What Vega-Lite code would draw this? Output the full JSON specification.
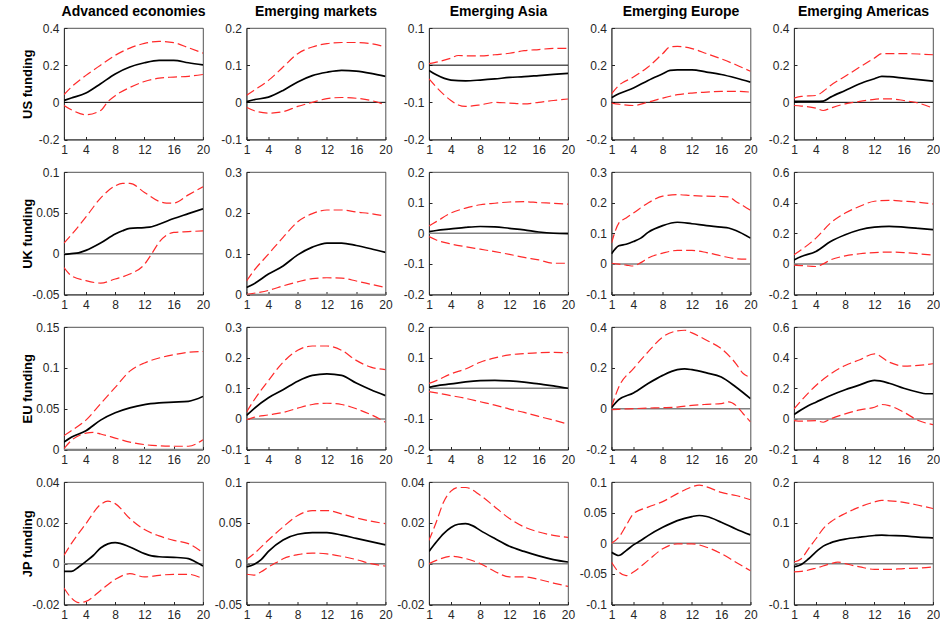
{
"$schema":"https://vega.github.io/schema/vega-lite/v6.json",
"background":"white",
"padding":{"left":20,"top":4,"right":4,"bottom":2},
"data":{"values":[
{"p":"A","s":"e","h":1,"v":0.01},{"p":"A","s":"e","h":2,"v":0.023},{"p":"A","s":"e","h":4,"v":0.05},{"p":"A","s":"e","h":6,"v":0.1},{"p":"A","s":"e","h":8,"v":0.153},{"p":"A","s":"e","h":10,"v":0.19},{"p":"A","s":"e","h":12,"v":0.213},{"p":"A","s":"e","h":14,"v":0.226},{"p":"A","s":"e","h":16,"v":0.226},{"p":"A","s":"e","h":18,"v":0.213},{"p":"A","s":"e","h":20,"v":0.202},
{"p":"A","s":"u","h":1,"v":0.042},{"p":"A","s":"u","h":2,"v":0.082},{"p":"A","s":"u","h":4,"v":0.145},{"p":"A","s":"u","h":6,"v":0.2},{"p":"A","s":"u","h":8,"v":0.253},{"p":"A","s":"u","h":10,"v":0.292},{"p":"A","s":"u","h":12,"v":0.317},{"p":"A","s":"u","h":14,"v":0.328},{"p":"A","s":"u","h":16,"v":0.321},{"p":"A","s":"u","h":18,"v":0.294},{"p":"A","s":"u","h":20,"v":0.265},
{"p":"A","s":"l","h":1,"v":-0.017},{"p":"A","s":"l","h":2,"v":-0.04},{"p":"A","s":"l","h":4,"v":-0.067},{"p":"A","s":"l","h":6,"v":-0.044},{"p":"A","s":"l","h":7,"v":0.004},{"p":"A","s":"l","h":8,"v":0.036},{"p":"A","s":"l","h":10,"v":0.08},{"p":"A","s":"l","h":12,"v":0.112},{"p":"A","s":"l","h":14,"v":0.13},{"p":"A","s":"l","h":16,"v":0.136},{"p":"A","s":"l","h":18,"v":0.14},{"p":"A","s":"l","h":20,"v":0.15},
{"p":"B","s":"e","h":1,"v":0.002},{"p":"B","s":"e","h":2,"v":0.007},{"p":"B","s":"e","h":4,"v":0.014},{"p":"B","s":"e","h":6,"v":0.032},{"p":"B","s":"e","h":8,"v":0.055},{"p":"B","s":"e","h":10,"v":0.072},{"p":"B","s":"e","h":12,"v":0.081},{"p":"B","s":"e","h":14,"v":0.086},{"p":"B","s":"e","h":16,"v":0.084},{"p":"B","s":"e","h":18,"v":0.078},{"p":"B","s":"e","h":20,"v":0.07},
{"p":"B","s":"u","h":1,"v":0.019},{"p":"B","s":"u","h":2,"v":0.032},{"p":"B","s":"u","h":4,"v":0.059},{"p":"B","s":"u","h":6,"v":0.095},{"p":"B","s":"u","h":8,"v":0.131},{"p":"B","s":"u","h":10,"v":0.149},{"p":"B","s":"u","h":12,"v":0.158},{"p":"B","s":"u","h":14,"v":0.161},{"p":"B","s":"u","h":16,"v":0.161},{"p":"B","s":"u","h":18,"v":0.158},{"p":"B","s":"u","h":20,"v":0.149},
{"p":"B","s":"l","h":1,"v":-0.013},{"p":"B","s":"l","h":2,"v":-0.022},{"p":"B","s":"l","h":4,"v":-0.029},{"p":"B","s":"l","h":6,"v":-0.025},{"p":"B","s":"l","h":8,"v":-0.011},{"p":"B","s":"l","h":10,"v":0.0},{"p":"B","s":"l","h":12,"v":0.01},{"p":"B","s":"l","h":14,"v":0.013},{"p":"B","s":"l","h":16,"v":0.011},{"p":"B","s":"l","h":18,"v":0.005},{"p":"B","s":"l","h":20,"v":-0.007},
{"p":"C","s":"e","h":1,"v":-0.014},{"p":"C","s":"e","h":2,"v":-0.026},{"p":"C","s":"e","h":4,"v":-0.04},{"p":"C","s":"e","h":6,"v":-0.042},{"p":"C","s":"e","h":8,"v":-0.04},{"p":"C","s":"e","h":10,"v":-0.037},{"p":"C","s":"e","h":12,"v":-0.033},{"p":"C","s":"e","h":14,"v":-0.031},{"p":"C","s":"e","h":16,"v":-0.028},{"p":"C","s":"e","h":18,"v":-0.025},{"p":"C","s":"e","h":20,"v":-0.022},
{"p":"C","s":"u","h":1,"v":0.004},{"p":"C","s":"u","h":2,"v":0.008},{"p":"C","s":"u","h":4,"v":0.019},{"p":"C","s":"u","h":5,"v":0.026},{"p":"C","s":"u","h":6,"v":0.025},{"p":"C","s":"u","h":8,"v":0.025},{"p":"C","s":"u","h":10,"v":0.028},{"p":"C","s":"u","h":12,"v":0.032},{"p":"C","s":"u","h":14,"v":0.039},{"p":"C","s":"u","h":16,"v":0.042},{"p":"C","s":"u","h":18,"v":0.045},{"p":"C","s":"u","h":20,"v":0.045},
{"p":"C","s":"l","h":1,"v":-0.037},{"p":"C","s":"l","h":2,"v":-0.059},{"p":"C","s":"l","h":4,"v":-0.095},{"p":"C","s":"l","h":5,"v":-0.107},{"p":"C","s":"l","h":6,"v":-0.111},{"p":"C","s":"l","h":8,"v":-0.107},{"p":"C","s":"l","h":10,"v":-0.1},{"p":"C","s":"l","h":12,"v":-0.102},{"p":"C","s":"l","h":14,"v":-0.104},{"p":"C","s":"l","h":16,"v":-0.1},{"p":"C","s":"l","h":18,"v":-0.095},{"p":"C","s":"l","h":20,"v":-0.091},
{"p":"D","s":"e","h":1,"v":0.025},{"p":"D","s":"e","h":2,"v":0.046},{"p":"D","s":"e","h":4,"v":0.077},{"p":"D","s":"e","h":6,"v":0.118},{"p":"D","s":"e","h":8,"v":0.154},{"p":"D","s":"e","h":9,"v":0.172},{"p":"D","s":"e","h":10,"v":0.175},{"p":"D","s":"e","h":12,"v":0.175},{"p":"D","s":"e","h":14,"v":0.163},{"p":"D","s":"e","h":16,"v":0.15},{"p":"D","s":"e","h":18,"v":0.131},{"p":"D","s":"e","h":20,"v":0.109},
{"p":"D","s":"u","h":1,"v":0.046},{"p":"D","s":"u","h":2,"v":0.091},{"p":"D","s":"u","h":4,"v":0.136},{"p":"D","s":"u","h":6,"v":0.19},{"p":"D","s":"u","h":8,"v":0.262},{"p":"D","s":"u","h":9,"v":0.298},{"p":"D","s":"u","h":10,"v":0.301},{"p":"D","s":"u","h":12,"v":0.289},{"p":"D","s":"u","h":14,"v":0.262},{"p":"D","s":"u","h":16,"v":0.234},{"p":"D","s":"u","h":18,"v":0.202},{"p":"D","s":"u","h":20,"v":0.167},
{"p":"D","s":"l","h":1,"v":-0.004},{"p":"D","s":"l","h":2,"v":-0.01},{"p":"D","s":"l","h":4,"v":-0.017},{"p":"D","s":"l","h":6,"v":0.001},{"p":"D","s":"l","h":8,"v":0.023},{"p":"D","s":"l","h":10,"v":0.041},{"p":"D","s":"l","h":12,"v":0.05},{"p":"D","s":"l","h":14,"v":0.055},{"p":"D","s":"l","h":16,"v":0.059},{"p":"D","s":"l","h":18,"v":0.059},{"p":"D","s":"l","h":20,"v":0.055},
{"p":"E","s":"e","h":1,"v":0.005},{"p":"E","s":"e","h":2,"v":0.005},{"p":"E","s":"e","h":4,"v":0.005},{"p":"E","s":"e","h":5,"v":0.007},{"p":"E","s":"e","h":6,"v":0.028},{"p":"E","s":"e","h":8,"v":0.064},{"p":"E","s":"e","h":10,"v":0.1},{"p":"E","s":"e","h":12,"v":0.127},{"p":"E","s":"e","h":13,"v":0.14},{"p":"E","s":"e","h":14,"v":0.138},{"p":"E","s":"e","h":16,"v":0.13},{"p":"E","s":"e","h":18,"v":0.122},{"p":"E","s":"e","h":20,"v":0.114},
{"p":"E","s":"u","h":1,"v":0.023},{"p":"E","s":"u","h":2,"v":0.032},{"p":"E","s":"u","h":4,"v":0.037},{"p":"E","s":"u","h":5,"v":0.059},{"p":"E","s":"u","h":6,"v":0.091},{"p":"E","s":"u","h":8,"v":0.14},{"p":"E","s":"u","h":10,"v":0.19},{"p":"E","s":"u","h":12,"v":0.238},{"p":"E","s":"u","h":13,"v":0.262},{"p":"E","s":"u","h":14,"v":0.262},{"p":"E","s":"u","h":16,"v":0.262},{"p":"E","s":"u","h":18,"v":0.26},{"p":"E","s":"u","h":20,"v":0.256},
{"p":"E","s":"l","h":1,"v":-0.017},{"p":"E","s":"l","h":2,"v":-0.02},{"p":"E","s":"l","h":4,"v":-0.031},{"p":"E","s":"l","h":5,"v":-0.044},{"p":"E","s":"l","h":6,"v":-0.031},{"p":"E","s":"l","h":8,"v":-0.008},{"p":"E","s":"l","h":10,"v":0.005},{"p":"E","s":"l","h":12,"v":0.016},{"p":"E","s":"l","h":13,"v":0.019},{"p":"E","s":"l","h":14,"v":0.019},{"p":"E","s":"l","h":16,"v":0.01},{"p":"E","s":"l","h":18,"v":-0.004},{"p":"E","s":"l","h":20,"v":-0.031},
{"p":"F","s":"e","h":1,"v":-0.001},{"p":"F","s":"e","h":2,"v":0},{"p":"F","s":"e","h":3,"v":0.001},{"p":"F","s":"e","h":4,"v":0.004},{"p":"F","s":"e","h":6,"v":0.013},{"p":"F","s":"e","h":8,"v":0.024},{"p":"F","s":"e","h":9,"v":0.028},{"p":"F","s":"e","h":10,"v":0.031},{"p":"F","s":"e","h":12,"v":0.032},{"p":"F","s":"e","h":13,"v":0.033},{"p":"F","s":"e","h":14,"v":0.036},{"p":"F","s":"e","h":16,"v":0.043},{"p":"F","s":"e","h":18,"v":0.049},{"p":"F","s":"e","h":20,"v":0.055},
{"p":"F","s":"u","h":1,"v":0.013},{"p":"F","s":"u","h":2,"v":0.023},{"p":"F","s":"u","h":4,"v":0.045},{"p":"F","s":"u","h":6,"v":0.068},{"p":"F","s":"u","h":8,"v":0.083},{"p":"F","s":"u","h":9,"v":0.086},{"p":"F","s":"u","h":10,"v":0.086},{"p":"F","s":"u","h":12,"v":0.075},{"p":"F","s":"u","h":14,"v":0.064},{"p":"F","s":"u","h":15,"v":0.062},{"p":"F","s":"u","h":16,"v":0.062},{"p":"F","s":"u","h":18,"v":0.072},{"p":"F","s":"u","h":20,"v":0.082},
{"p":"F","s":"l","h":1,"v":-0.017},{"p":"F","s":"l","h":2,"v":-0.027},{"p":"F","s":"l","h":4,"v":-0.033},{"p":"F","s":"l","h":6,"v":-0.036},{"p":"F","s":"l","h":8,"v":-0.031},{"p":"F","s":"l","h":10,"v":-0.025},{"p":"F","s":"l","h":12,"v":-0.013},{"p":"F","s":"l","h":13,"v":0},{"p":"F","s":"l","h":14,"v":0.014},{"p":"F","s":"l","h":16,"v":0.026},{"p":"F","s":"l","h":18,"v":0.027},{"p":"F","s":"l","h":20,"v":0.028},
{"p":"G","s":"e","h":1,"v":0.017},{"p":"G","s":"e","h":2,"v":0.026},{"p":"G","s":"e","h":4,"v":0.05},{"p":"G","s":"e","h":6,"v":0.07},{"p":"G","s":"e","h":8,"v":0.097},{"p":"G","s":"e","h":10,"v":0.116},{"p":"G","s":"e","h":12,"v":0.126},{"p":"G","s":"e","h":14,"v":0.126},{"p":"G","s":"e","h":16,"v":0.12},{"p":"G","s":"e","h":18,"v":0.112},{"p":"G","s":"e","h":20,"v":0.103},
{"p":"G","s":"u","h":1,"v":0.033},{"p":"G","s":"u","h":2,"v":0.058},{"p":"G","s":"u","h":4,"v":0.099},{"p":"G","s":"u","h":6,"v":0.14},{"p":"G","s":"u","h":8,"v":0.178},{"p":"G","s":"u","h":10,"v":0.198},{"p":"G","s":"u","h":12,"v":0.207},{"p":"G","s":"u","h":14,"v":0.207},{"p":"G","s":"u","h":16,"v":0.202},{"p":"G","s":"u","h":18,"v":0.198},{"p":"G","s":"u","h":20,"v":0.192},
{"p":"G","s":"l","h":1,"v":0},{"p":"G","s":"l","h":2,"v":0.003},{"p":"G","s":"l","h":4,"v":0.01},{"p":"G","s":"l","h":6,"v":0.021},{"p":"G","s":"l","h":8,"v":0.031},{"p":"G","s":"l","h":10,"v":0.039},{"p":"G","s":"l","h":12,"v":0.041},{"p":"G","s":"l","h":14,"v":0.04},{"p":"G","s":"l","h":16,"v":0.033},{"p":"G","s":"l","h":18,"v":0.025},{"p":"G","s":"l","h":20,"v":0.017},
{"p":"H","s":"e","h":1,"v":0.005},{"p":"H","s":"e","h":2,"v":0.009},{"p":"H","s":"e","h":4,"v":0.014},{"p":"H","s":"e","h":6,"v":0.019},{"p":"H","s":"e","h":8,"v":0.022},{"p":"H","s":"e","h":10,"v":0.021},{"p":"H","s":"e","h":12,"v":0.016},{"p":"H","s":"e","h":14,"v":0.011},{"p":"H","s":"e","h":16,"v":0.004},{"p":"H","s":"e","h":18,"v":0},{"p":"H","s":"e","h":20,"v":-0.001},
{"p":"H","s":"u","h":1,"v":0.024},{"p":"H","s":"u","h":2,"v":0.038},{"p":"H","s":"u","h":4,"v":0.066},{"p":"H","s":"u","h":6,"v":0.082},{"p":"H","s":"u","h":8,"v":0.093},{"p":"H","s":"u","h":10,"v":0.098},{"p":"H","s":"u","h":12,"v":0.102},{"p":"H","s":"u","h":14,"v":0.103},{"p":"H","s":"u","h":16,"v":0.1},{"p":"H","s":"u","h":18,"v":0.098},{"p":"H","s":"u","h":20,"v":0.095},
{"p":"H","s":"l","h":1,"v":-0.011},{"p":"H","s":"l","h":2,"v":-0.022},{"p":"H","s":"l","h":4,"v":-0.035},{"p":"H","s":"l","h":6,"v":-0.044},{"p":"H","s":"l","h":8,"v":-0.052},{"p":"H","s":"l","h":10,"v":-0.06},{"p":"H","s":"l","h":12,"v":-0.069},{"p":"H","s":"l","h":14,"v":-0.079},{"p":"H","s":"l","h":16,"v":-0.087},{"p":"H","s":"l","h":18,"v":-0.098},{"p":"H","s":"l","h":20,"v":-0.098},
{"p":"I","s":"e","h":1,"v":0.033},{"p":"I","s":"e","h":2,"v":0.059},{"p":"I","s":"e","h":3,"v":0.064},{"p":"I","s":"e","h":4,"v":0.073},{"p":"I","s":"e","h":5,"v":0.084},{"p":"I","s":"e","h":6,"v":0.103},{"p":"I","s":"e","h":8,"v":0.125},{"p":"I","s":"e","h":10,"v":0.136},{"p":"I","s":"e","h":12,"v":0.131},{"p":"I","s":"e","h":14,"v":0.125},{"p":"I","s":"e","h":16,"v":0.12},{"p":"I","s":"e","h":17,"v":0.117},{"p":"I","s":"e","h":18,"v":0.109},{"p":"I","s":"e","h":20,"v":0.084},
{"p":"I","s":"u","h":1,"v":0.068},{"p":"I","s":"u","h":2,"v":0.133},{"p":"I","s":"u","h":3,"v":0.15},{"p":"I","s":"u","h":4,"v":0.166},{"p":"I","s":"u","h":6,"v":0.199},{"p":"I","s":"u","h":8,"v":0.221},{"p":"I","s":"u","h":10,"v":0.226},{"p":"I","s":"u","h":12,"v":0.223},{"p":"I","s":"u","h":14,"v":0.221},{"p":"I","s":"u","h":16,"v":0.22},{"p":"I","s":"u","h":17,"v":0.219},{"p":"I","s":"u","h":18,"v":0.204},{"p":"I","s":"u","h":19,"v":0.19},{"p":"I","s":"u","h":20,"v":0.175},
{"p":"I","s":"l","h":1,"v":0.002},{"p":"I","s":"l","h":2,"v":-0.001},{"p":"I","s":"l","h":3,"v":-0.004},{"p":"I","s":"l","h":4,"v":-0.007},{"p":"I","s":"l","h":5,"v":0.004},{"p":"I","s":"l","h":6,"v":0.019},{"p":"I","s":"l","h":8,"v":0.035},{"p":"I","s":"l","h":10,"v":0.044},{"p":"I","s":"l","h":12,"v":0.044},{"p":"I","s":"l","h":14,"v":0.037},{"p":"I","s":"l","h":16,"v":0.026},{"p":"I","s":"l","h":18,"v":0.017},{"p":"I","s":"l","h":20,"v":0.015},
{"p":"J","s":"e","h":1,"v":0.026},{"p":"J","s":"e","h":2,"v":0.048},{"p":"J","s":"e","h":4,"v":0.081},{"p":"J","s":"e","h":6,"v":0.146},{"p":"J","s":"e","h":8,"v":0.19},{"p":"J","s":"e","h":10,"v":0.223},{"p":"J","s":"e","h":12,"v":0.24},{"p":"J","s":"e","h":14,"v":0.245},{"p":"J","s":"e","h":16,"v":0.24},{"p":"J","s":"e","h":18,"v":0.232},{"p":"J","s":"e","h":20,"v":0.223},
{"p":"J","s":"u","h":1,"v":0.059},{"p":"J","s":"u","h":2,"v":0.092},{"p":"J","s":"u","h":4,"v":0.168},{"p":"J","s":"u","h":6,"v":0.267},{"p":"J","s":"u","h":8,"v":0.332},{"p":"J","s":"u","h":10,"v":0.376},{"p":"J","s":"u","h":12,"v":0.409},{"p":"J","s":"u","h":14,"v":0.415},{"p":"J","s":"u","h":16,"v":0.409},{"p":"J","s":"u","h":18,"v":0.402},{"p":"J","s":"u","h":20,"v":0.391},
{"p":"J","s":"l","h":1,"v":-0.009},{"p":"J","s":"l","h":2,"v":-0.011},{"p":"J","s":"l","h":4,"v":-0.017},{"p":"J","s":"l","h":5,"v":0},{"p":"J","s":"l","h":6,"v":0.026},{"p":"J","s":"l","h":8,"v":0.052},{"p":"J","s":"l","h":10,"v":0.066},{"p":"J","s":"l","h":12,"v":0.074},{"p":"J","s":"l","h":14,"v":0.077},{"p":"J","s":"l","h":16,"v":0.074},{"p":"J","s":"l","h":18,"v":0.066},{"p":"J","s":"l","h":20,"v":0.057},
{"p":"K","s":"e","h":1,"v":0.009},{"p":"K","s":"e","h":2,"v":0.015},{"p":"K","s":"e","h":4,"v":0.023},{"p":"K","s":"e","h":6,"v":0.036},{"p":"K","s":"e","h":8,"v":0.045},{"p":"K","s":"e","h":10,"v":0.051},{"p":"K","s":"e","h":12,"v":0.055},{"p":"K","s":"e","h":14,"v":0.057},{"p":"K","s":"e","h":16,"v":0.058},{"p":"K","s":"e","h":18,"v":0.059},{"p":"K","s":"e","h":20,"v":0.065},
{"p":"K","s":"u","h":1,"v":0.017},{"p":"K","s":"u","h":2,"v":0.023},{"p":"K","s":"u","h":4,"v":0.036},{"p":"K","s":"u","h":6,"v":0.056},{"p":"K","s":"u","h":8,"v":0.076},{"p":"K","s":"u","h":10,"v":0.096},{"p":"K","s":"u","h":12,"v":0.106},{"p":"K","s":"u","h":14,"v":0.112},{"p":"K","s":"u","h":16,"v":0.116},{"p":"K","s":"u","h":18,"v":0.119},{"p":"K","s":"u","h":20,"v":0.12},
{"p":"K","s":"l","h":1,"v":0.001},{"p":"K","s":"l","h":2,"v":0.011},{"p":"K","s":"l","h":4,"v":0.02},{"p":"K","s":"l","h":5,"v":0.021},{"p":"K","s":"l","h":6,"v":0.019},{"p":"K","s":"l","h":8,"v":0.014},{"p":"K","s":"l","h":10,"v":0.009},{"p":"K","s":"l","h":12,"v":0.006},{"p":"K","s":"l","h":14,"v":0.0045},{"p":"K","s":"l","h":16,"v":0.004},{"p":"K","s":"l","h":18,"v":0.004},{"p":"K","s":"l","h":20,"v":0.012},
{"p":"L","s":"e","h":1,"v":0.011},{"p":"L","s":"e","h":2,"v":0.033},{"p":"L","s":"e","h":4,"v":0.069},{"p":"L","s":"e","h":6,"v":0.095},{"p":"L","s":"e","h":8,"v":0.123},{"p":"L","s":"e","h":10,"v":0.142},{"p":"L","s":"e","h":12,"v":0.147},{"p":"L","s":"e","h":14,"v":0.142},{"p":"L","s":"e","h":16,"v":0.117},{"p":"L","s":"e","h":18,"v":0.095},{"p":"L","s":"e","h":20,"v":0.076},
{"p":"L","s":"u","h":1,"v":0.022},{"p":"L","s":"u","h":2,"v":0.06},{"p":"L","s":"u","h":4,"v":0.125},{"p":"L","s":"u","h":6,"v":0.185},{"p":"L","s":"u","h":8,"v":0.224},{"p":"L","s":"u","h":10,"v":0.238},{"p":"L","s":"u","h":12,"v":0.238},{"p":"L","s":"u","h":14,"v":0.224},{"p":"L","s":"u","h":16,"v":0.191},{"p":"L","s":"u","h":18,"v":0.169},{"p":"L","s":"u","h":20,"v":0.161},
{"p":"L","s":"l","h":1,"v":-0.003},{"p":"L","s":"l","h":2,"v":0.005},{"p":"L","s":"l","h":4,"v":0.013},{"p":"L","s":"l","h":6,"v":0.021},{"p":"L","s":"l","h":8,"v":0.035},{"p":"L","s":"l","h":10,"v":0.047},{"p":"L","s":"l","h":12,"v":0.051},{"p":"L","s":"l","h":14,"v":0.047},{"p":"L","s":"l","h":16,"v":0.033},{"p":"L","s":"l","h":18,"v":0.014},{"p":"L","s":"l","h":20,"v":-0.011},
{"p":"M","s":"e","h":1,"v":0.003},{"p":"M","s":"e","h":2,"v":0.008},{"p":"M","s":"e","h":4,"v":0.014},{"p":"M","s":"e","h":6,"v":0.021},{"p":"M","s":"e","h":8,"v":0.025},{"p":"M","s":"e","h":10,"v":0.026},{"p":"M","s":"e","h":12,"v":0.024},{"p":"M","s":"e","h":14,"v":0.02},{"p":"M","s":"e","h":16,"v":0.014},{"p":"M","s":"e","h":18,"v":0.008},{"p":"M","s":"e","h":20,"v":0},
{"p":"M","s":"u","h":1,"v":0.016},{"p":"M","s":"u","h":2,"v":0.025},{"p":"M","s":"u","h":4,"v":0.047},{"p":"M","s":"u","h":6,"v":0.063},{"p":"M","s":"u","h":8,"v":0.085},{"p":"M","s":"u","h":10,"v":0.099},{"p":"M","s":"u","h":12,"v":0.109},{"p":"M","s":"u","h":14,"v":0.113},{"p":"M","s":"u","h":16,"v":0.116},{"p":"M","s":"u","h":18,"v":0.117},{"p":"M","s":"u","h":20,"v":0.116},
{"p":"M","s":"l","h":1,"v":-0.011},{"p":"M","s":"l","h":2,"v":-0.015},{"p":"M","s":"l","h":4,"v":-0.024},{"p":"M","s":"l","h":6,"v":-0.033},{"p":"M","s":"l","h":8,"v":-0.044},{"p":"M","s":"l","h":10,"v":-0.055},{"p":"M","s":"l","h":12,"v":-0.068},{"p":"M","s":"l","h":14,"v":-0.079},{"p":"M","s":"l","h":16,"v":-0.092},{"p":"M","s":"l","h":18,"v":-0.104},{"p":"M","s":"l","h":20,"v":-0.117},
{"p":"N","s":"e","h":1,"v":0.005},{"p":"N","s":"e","h":2,"v":0.044},{"p":"N","s":"e","h":4,"v":0.077},{"p":"N","s":"e","h":6,"v":0.123},{"p":"N","s":"e","h":8,"v":0.163},{"p":"N","s":"e","h":10,"v":0.191},{"p":"N","s":"e","h":11,"v":0.195},{"p":"N","s":"e","h":12,"v":0.191},{"p":"N","s":"e","h":14,"v":0.175},{"p":"N","s":"e","h":16,"v":0.155},{"p":"N","s":"e","h":18,"v":0.106},{"p":"N","s":"e","h":20,"v":0.049},
{"p":"N","s":"u","h":1,"v":0.008},{"p":"N","s":"u","h":2,"v":0.106},{"p":"N","s":"u","h":4,"v":0.196},{"p":"N","s":"u","h":6,"v":0.278},{"p":"N","s":"u","h":8,"v":0.351},{"p":"N","s":"u","h":10,"v":0.381},{"p":"N","s":"u","h":11,"v":0.384},{"p":"N","s":"u","h":12,"v":0.371},{"p":"N","s":"u","h":14,"v":0.335},{"p":"N","s":"u","h":16,"v":0.294},{"p":"N","s":"u","h":18,"v":0.221},{"p":"N","s":"u","h":19,"v":0.172},{"p":"N","s":"u","h":20,"v":0.155},
{"p":"N","s":"l","h":1,"v":-0.005},{"p":"N","s":"l","h":2,"v":-0.003},{"p":"N","s":"l","h":4,"v":0},{"p":"N","s":"l","h":6,"v":0.003},{"p":"N","s":"l","h":8,"v":0.005},{"p":"N","s":"l","h":10,"v":0.008},{"p":"N","s":"l","h":12,"v":0.016},{"p":"N","s":"l","h":14,"v":0.021},{"p":"N","s":"l","h":16,"v":0.025},{"p":"N","s":"l","h":17,"v":0.033},{"p":"N","s":"l","h":18,"v":0.016},{"p":"N","s":"l","h":19,"v":-0.025},{"p":"N","s":"l","h":20,"v":-0.065},
{"p":"O","s":"e","h":1,"v":0.028},{"p":"O","s":"e","h":2,"v":0.059},{"p":"O","s":"e","h":3,"v":0.087},{"p":"O","s":"e","h":4,"v":0.109},{"p":"O","s":"e","h":6,"v":0.153},{"p":"O","s":"e","h":8,"v":0.19},{"p":"O","s":"e","h":10,"v":0.222},{"p":"O","s":"e","h":12,"v":0.251},{"p":"O","s":"e","h":14,"v":0.233},{"p":"O","s":"e","h":16,"v":0.2},{"p":"O","s":"e","h":18,"v":0.174},{"p":"O","s":"e","h":19,"v":0.164},{"p":"O","s":"e","h":20,"v":0.164},
{"p":"O","s":"u","h":1,"v":0.065},{"p":"O","s":"u","h":2,"v":0.12},{"p":"O","s":"u","h":4,"v":0.218},{"p":"O","s":"u","h":6,"v":0.294},{"p":"O","s":"u","h":8,"v":0.349},{"p":"O","s":"u","h":10,"v":0.386},{"p":"O","s":"u","h":12,"v":0.425},{"p":"O","s":"u","h":14,"v":0.371},{"p":"O","s":"u","h":16,"v":0.345},{"p":"O","s":"u","h":18,"v":0.349},{"p":"O","s":"u","h":20,"v":0.36},
{"p":"O","s":"l","h":1,"v":-0.011},{"p":"O","s":"l","h":2,"v":-0.015},{"p":"O","s":"l","h":4,"v":-0.011},{"p":"O","s":"l","h":5,"v":-0.022},{"p":"O","s":"l","h":6,"v":0},{"p":"O","s":"l","h":8,"v":0.033},{"p":"O","s":"l","h":10,"v":0.059},{"p":"O","s":"l","h":12,"v":0.076},{"p":"O","s":"l","h":13,"v":0.094},{"p":"O","s":"l","h":14,"v":0.087},{"p":"O","s":"l","h":16,"v":0.044},{"p":"O","s":"l","h":18,"v":-0.011},{"p":"O","s":"l","h":20,"v":-0.037},
{"p":"P","s":"e","h":1,"v":-0.0038},{"p":"P","s":"e","h":2,"v":-0.0038},{"p":"P","s":"e","h":3,"v":-0.0016},{"p":"P","s":"e","h":4,"v":0.0011},{"p":"P","s":"e","h":5,"v":0.004},{"p":"P","s":"e","h":6,"v":0.0077},{"p":"P","s":"e","h":8,"v":0.0103},{"p":"P","s":"e","h":10,"v":0.0082},{"p":"P","s":"e","h":12,"v":0.0049},{"p":"P","s":"e","h":13,"v":0.0038},{"p":"P","s":"e","h":14,"v":0.0034},{"p":"P","s":"e","h":16,"v":0.0031},{"p":"P","s":"e","h":18,"v":0.0025},{"p":"P","s":"e","h":19,"v":0.0008},{"p":"P","s":"e","h":20,"v":-0.0011},
{"p":"P","s":"u","h":1,"v":0.0041},{"p":"P","s":"u","h":2,"v":0.0098},{"p":"P","s":"u","h":4,"v":0.0196},{"p":"P","s":"u","h":6,"v":0.029},{"p":"P","s":"u","h":7,"v":0.0306},{"p":"P","s":"u","h":8,"v":0.0294},{"p":"P","s":"u","h":10,"v":0.0221},{"p":"P","s":"u","h":12,"v":0.0167},{"p":"P","s":"u","h":14,"v":0.0136},{"p":"P","s":"u","h":16,"v":0.0114},{"p":"P","s":"u","h":18,"v":0.0098},{"p":"P","s":"u","h":20,"v":0.0054},
{"p":"P","s":"l","h":1,"v":-0.0119},{"p":"P","s":"l","h":2,"v":-0.0168},{"p":"P","s":"l","h":3,"v":-0.0191},{"p":"P","s":"l","h":4,"v":-0.0185},{"p":"P","s":"l","h":6,"v":-0.0131},{"p":"P","s":"l","h":8,"v":-0.0077},{"p":"P","s":"l","h":10,"v":-0.0049},{"p":"P","s":"l","h":12,"v":-0.0065},{"p":"P","s":"l","h":14,"v":-0.0057},{"p":"P","s":"l","h":16,"v":-0.0052},{"p":"P","s":"l","h":18,"v":-0.0052},{"p":"P","s":"l","h":20,"v":-0.0074},
{"p":"Q","s":"e","h":1,"v":-0.004},{"p":"Q","s":"e","h":2,"v":-0.001},{"p":"Q","s":"e","h":3,"v":0.005},{"p":"Q","s":"e","h":4,"v":0.015},{"p":"Q","s":"e","h":6,"v":0.029},{"p":"Q","s":"e","h":8,"v":0.036},{"p":"Q","s":"e","h":10,"v":0.038},{"p":"Q","s":"e","h":12,"v":0.038},{"p":"Q","s":"e","h":14,"v":0.035},{"p":"Q","s":"e","h":16,"v":0.031},{"p":"Q","s":"e","h":18,"v":0.027},{"p":"Q","s":"e","h":20,"v":0.023},
{"p":"Q","s":"u","h":1,"v":0.005},{"p":"Q","s":"u","h":2,"v":0.012},{"p":"Q","s":"u","h":4,"v":0.029},{"p":"Q","s":"u","h":6,"v":0.045},{"p":"Q","s":"u","h":8,"v":0.059},{"p":"Q","s":"u","h":10,"v":0.065},{"p":"Q","s":"u","h":12,"v":0.065},{"p":"Q","s":"u","h":14,"v":0.061},{"p":"Q","s":"u","h":16,"v":0.056},{"p":"Q","s":"u","h":18,"v":0.052},{"p":"Q","s":"u","h":20,"v":0.049},
{"p":"Q","s":"l","h":1,"v":-0.013},{"p":"Q","s":"l","h":2,"v":-0.014},{"p":"Q","s":"l","h":3,"v":-0.01},{"p":"Q","s":"l","h":4,"v":-0.004},{"p":"Q","s":"l","h":5,"v":0.001},{"p":"Q","s":"l","h":6,"v":0.006},{"p":"Q","s":"l","h":8,"v":0.011},{"p":"Q","s":"l","h":10,"v":0.013},{"p":"Q","s":"l","h":12,"v":0.012},{"p":"Q","s":"l","h":14,"v":0.009},{"p":"Q","s":"l","h":16,"v":0.005},{"p":"Q","s":"l","h":18,"v":0},{"p":"Q","s":"l","h":20,"v":-0.003},
{"p":"R","s":"e","h":1,"v":0.006},{"p":"R","s":"e","h":2,"v":0.0106},{"p":"R","s":"e","h":3,"v":0.0147},{"p":"R","s":"e","h":4,"v":0.0177},{"p":"R","s":"e","h":5,"v":0.0193},{"p":"R","s":"e","h":6,"v":0.0196},{"p":"R","s":"e","h":7,"v":0.0185},{"p":"R","s":"e","h":8,"v":0.0163},{"p":"R","s":"e","h":10,"v":0.0123},{"p":"R","s":"e","h":12,"v":0.0085},{"p":"R","s":"e","h":14,"v":0.006},{"p":"R","s":"e","h":16,"v":0.0038},{"p":"R","s":"e","h":18,"v":0.002},{"p":"R","s":"e","h":20,"v":0.0008},
{"p":"R","s":"u","h":1,"v":0.0114},{"p":"R","s":"u","h":2,"v":0.0204},{"p":"R","s":"u","h":3,"v":0.0302},{"p":"R","s":"u","h":4,"v":0.0355},{"p":"R","s":"u","h":5,"v":0.0373},{"p":"R","s":"u","h":6,"v":0.0373},{"p":"R","s":"u","h":8,"v":0.0335},{"p":"R","s":"u","h":10,"v":0.0278},{"p":"R","s":"u","h":12,"v":0.0221},{"p":"R","s":"u","h":14,"v":0.018},{"p":"R","s":"u","h":16,"v":0.0155},{"p":"R","s":"u","h":18,"v":0.0139},{"p":"R","s":"u","h":20,"v":0.0129},
{"p":"R","s":"l","h":1,"v":0},{"p":"R","s":"l","h":2,"v":0.0016},{"p":"R","s":"l","h":4,"v":0.0036},{"p":"R","s":"l","h":6,"v":0.0025},{"p":"R","s":"l","h":8,"v":0},{"p":"R","s":"l","h":10,"v":-0.0038},{"p":"R","s":"l","h":12,"v":-0.0065},{"p":"R","s":"l","h":14,"v":-0.0065},{"p":"R","s":"l","h":16,"v":-0.0077},{"p":"R","s":"l","h":18,"v":-0.0095},{"p":"R","s":"l","h":20,"v":-0.0111},
{"p":"S","s":"e","h":1,"v":-0.0147},{"p":"S","s":"e","h":2,"v":-0.02},{"p":"S","s":"e","h":3,"v":-0.012},{"p":"S","s":"e","h":4,"v":-0.0027},{"p":"S","s":"e","h":5,"v":0.0044},{"p":"S","s":"e","h":6,"v":0.0125},{"p":"S","s":"e","h":8,"v":0.026},{"p":"S","s":"e","h":10,"v":0.037},{"p":"S","s":"e","h":12,"v":0.0436},{"p":"S","s":"e","h":13,"v":0.0453},{"p":"S","s":"e","h":14,"v":0.0436},{"p":"S","s":"e","h":16,"v":0.0344},{"p":"S","s":"e","h":18,"v":0.0234},{"p":"S","s":"e","h":20,"v":0.0136},
{"p":"S","s":"u","h":1,"v":0},{"p":"S","s":"u","h":2,"v":0.0098},{"p":"S","s":"u","h":3,"v":0.029},{"p":"S","s":"u","h":4,"v":0.048},{"p":"S","s":"u","h":6,"v":0.059},{"p":"S","s":"u","h":8,"v":0.068},{"p":"S","s":"u","h":10,"v":0.081},{"p":"S","s":"u","h":12,"v":0.092},{"p":"S","s":"u","h":13,"v":0.095},{"p":"S","s":"u","h":14,"v":0.092},{"p":"S","s":"u","h":16,"v":0.083},{"p":"S","s":"u","h":18,"v":0.078},{"p":"S","s":"u","h":20,"v":0.071},
{"p":"S","s":"l","h":1,"v":-0.031},{"p":"S","s":"l","h":2,"v":-0.047},{"p":"S","s":"l","h":3,"v":-0.053},{"p":"S","s":"l","h":4,"v":-0.047},{"p":"S","s":"l","h":6,"v":-0.028},{"p":"S","s":"l","h":8,"v":-0.009},{"p":"S","s":"l","h":10,"v":-0.001},{"p":"S","s":"l","h":12,"v":-0.001},{"p":"S","s":"l","h":14,"v":-0.0065},{"p":"S","s":"l","h":16,"v":-0.017},{"p":"S","s":"l","h":18,"v":-0.031},{"p":"S","s":"l","h":20,"v":-0.045},
{"p":"T","s":"e","h":1,"v":-0.008},{"p":"T","s":"e","h":2,"v":-0.002},{"p":"T","s":"e","h":3,"v":0.012},{"p":"T","s":"e","h":4,"v":0.029},{"p":"T","s":"e","h":5,"v":0.043},{"p":"T","s":"e","h":6,"v":0.051},{"p":"T","s":"e","h":8,"v":0.06},{"p":"T","s":"e","h":10,"v":0.065},{"p":"T","s":"e","h":12,"v":0.069},{"p":"T","s":"e","h":13,"v":0.07},{"p":"T","s":"e","h":14,"v":0.069},{"p":"T","s":"e","h":16,"v":0.068},{"p":"T","s":"e","h":18,"v":0.065},{"p":"T","s":"e","h":20,"v":0.063},
{"p":"T","s":"u","h":1,"v":0.004},{"p":"T","s":"u","h":2,"v":0.012},{"p":"T","s":"u","h":3,"v":0.037},{"p":"T","s":"u","h":4,"v":0.061},{"p":"T","s":"u","h":5,"v":0.086},{"p":"T","s":"u","h":6,"v":0.102},{"p":"T","s":"u","h":8,"v":0.123},{"p":"T","s":"u","h":10,"v":0.139},{"p":"T","s":"u","h":12,"v":0.151},{"p":"T","s":"u","h":13,"v":0.155},{"p":"T","s":"u","h":14,"v":0.154},{"p":"T","s":"u","h":16,"v":0.15},{"p":"T","s":"u","h":18,"v":0.143},{"p":"T","s":"u","h":20,"v":0.135},
{"p":"T","s":"l","h":1,"v":-0.02},{"p":"T","s":"l","h":2,"v":-0.019},{"p":"T","s":"l","h":4,"v":-0.011},{"p":"T","s":"l","h":6,"v":0},{"p":"T","s":"l","h":7,"v":0.004},{"p":"T","s":"l","h":8,"v":0},{"p":"T","s":"l","h":10,"v":-0.008},{"p":"T","s":"l","h":12,"v":-0.014},{"p":"T","s":"l","h":14,"v":-0.014},{"p":"T","s":"l","h":16,"v":-0.012},{"p":"T","s":"l","h":18,"v":-0.011},{"p":"T","s":"l","h":20,"v":-0.008}
]},
"columns":5,
"spacing":{"row":32,"column":43.5},
"bounds":"flush",
"concat":[
{"width":139,"height":111.5,"title":"Advanced economies","transform":[{"filter":"datum.p=='A'"}],"encoding":{"x":{"field":"h","type":"quantitative","scale":{"domain":[1,20],"nice":false,"zero":false},"axis":{"values":[1,4,8,12,16,20],"title":null}},"y":{"field":"v","type":"quantitative","scale":{"domain":[-0.2,0.4],"nice":false,"zero":false},"axis":{"values":[-0.2,0,0.2,0.4],"title":"US funding","titleX":-30,"labelExpr":"toString(datum.value)"}}},"layer":[
{"transform":[{"filter":"datum.s=='e'&&datum.h==1"}],"mark":{"type":"rule","color":"#000","strokeWidth":1},"encoding":{"x":{"datum":1},"x2":{"datum":20},"y":{"datum":0}}},
{"transform":[{"filter":"datum.s!='e'"}],"mark":{"type":"line","color":"#ff2a2a","strokeWidth":1.2,"strokeDash":[9,4],"interpolate":"monotone","clip":true},"encoding":{"detail":{"field":"s"}}},
{"transform":[{"filter":"datum.s=='e'"}],"mark":{"type":"line","color":"#000","strokeWidth":1.7,"interpolate":"monotone","clip":true}}]},
{"width":139,"height":111.5,"title":"Emerging markets","transform":[{"filter":"datum.p=='B'"}],"encoding":{"x":{"field":"h","type":"quantitative","scale":{"domain":[1,20],"nice":false,"zero":false},"axis":{"values":[1,4,8,12,16,20],"title":null}},"y":{"field":"v","type":"quantitative","scale":{"domain":[-0.1,0.2],"nice":false,"zero":false},"axis":{"values":[-0.1,0,0.1,0.2],"title":null,"labelExpr":"toString(datum.value)"}}},"layer":[
{"transform":[{"filter":"datum.s=='e'&&datum.h==1"}],"mark":{"type":"rule","color":"#000","strokeWidth":1},"encoding":{"x":{"datum":1},"x2":{"datum":20},"y":{"datum":0}}},
{"transform":[{"filter":"datum.s!='e'"}],"mark":{"type":"line","color":"#ff2a2a","strokeWidth":1.2,"strokeDash":[9,4],"interpolate":"monotone","clip":true},"encoding":{"detail":{"field":"s"}}},
{"transform":[{"filter":"datum.s=='e'"}],"mark":{"type":"line","color":"#000","strokeWidth":1.7,"interpolate":"monotone","clip":true}}]},
{"width":139,"height":111.5,"title":"Emerging Asia","transform":[{"filter":"datum.p=='C'"}],"encoding":{"x":{"field":"h","type":"quantitative","scale":{"domain":[1,20],"nice":false,"zero":false},"axis":{"values":[1,4,8,12,16,20],"title":null}},"y":{"field":"v","type":"quantitative","scale":{"domain":[-0.2,0.1],"nice":false,"zero":false},"axis":{"values":[-0.2,-0.1,0,0.1],"title":null,"labelExpr":"toString(datum.value)"}}},"layer":[
{"transform":[{"filter":"datum.s=='e'&&datum.h==1"}],"mark":{"type":"rule","color":"#000","strokeWidth":1},"encoding":{"x":{"datum":1},"x2":{"datum":20},"y":{"datum":0}}},
{"transform":[{"filter":"datum.s!='e'"}],"mark":{"type":"line","color":"#ff2a2a","strokeWidth":1.2,"strokeDash":[9,4],"interpolate":"monotone","clip":true},"encoding":{"detail":{"field":"s"}}},
{"transform":[{"filter":"datum.s=='e'"}],"mark":{"type":"line","color":"#000","strokeWidth":1.7,"interpolate":"monotone","clip":true}}]},
{"width":139,"height":111.5,"title":"Emerging Europe","transform":[{"filter":"datum.p=='D'"}],"encoding":{"x":{"field":"h","type":"quantitative","scale":{"domain":[1,20],"nice":false,"zero":false},"axis":{"values":[1,4,8,12,16,20],"title":null}},"y":{"field":"v","type":"quantitative","scale":{"domain":[-0.2,0.4],"nice":false,"zero":false},"axis":{"values":[-0.2,0,0.2,0.4],"title":null,"labelExpr":"toString(datum.value)"}}},"layer":[
{"transform":[{"filter":"datum.s=='e'&&datum.h==1"}],"mark":{"type":"rule","color":"#000","strokeWidth":1},"encoding":{"x":{"datum":1},"x2":{"datum":20},"y":{"datum":0}}},
{"transform":[{"filter":"datum.s!='e'"}],"mark":{"type":"line","color":"#ff2a2a","strokeWidth":1.2,"strokeDash":[9,4],"interpolate":"monotone","clip":true},"encoding":{"detail":{"field":"s"}}},
{"transform":[{"filter":"datum.s=='e'"}],"mark":{"type":"line","color":"#000","strokeWidth":1.7,"interpolate":"monotone","clip":true}}]},
{"width":139,"height":111.5,"title":"Emerging Americas","transform":[{"filter":"datum.p=='E'"}],"encoding":{"x":{"field":"h","type":"quantitative","scale":{"domain":[1,20],"nice":false,"zero":false},"axis":{"values":[1,4,8,12,16,20],"title":null}},"y":{"field":"v","type":"quantitative","scale":{"domain":[-0.2,0.4],"nice":false,"zero":false},"axis":{"values":[-0.2,0,0.2,0.4],"title":null,"labelExpr":"toString(datum.value)"}}},"layer":[
{"transform":[{"filter":"datum.s=='e'&&datum.h==1"}],"mark":{"type":"rule","color":"#000","strokeWidth":1},"encoding":{"x":{"datum":1},"x2":{"datum":20},"y":{"datum":0}}},
{"transform":[{"filter":"datum.s!='e'"}],"mark":{"type":"line","color":"#ff2a2a","strokeWidth":1.2,"strokeDash":[9,4],"interpolate":"monotone","clip":true},"encoding":{"detail":{"field":"s"}}},
{"transform":[{"filter":"datum.s=='e'"}],"mark":{"type":"line","color":"#000","strokeWidth":1.7,"interpolate":"monotone","clip":true}}]},
{"width":139,"height":122.5,"transform":[{"filter":"datum.p=='F'"}],"encoding":{"x":{"field":"h","type":"quantitative","scale":{"domain":[1,20],"nice":false,"zero":false},"axis":{"values":[1,4,8,12,16,20],"title":null}},"y":{"field":"v","type":"quantitative","scale":{"domain":[-0.05,0.1],"nice":false,"zero":false},"axis":{"values":[-0.05,0,0.05,0.1],"title":"UK funding","titleX":-30,"labelExpr":"toString(datum.value)"}}},"layer":[
{"transform":[{"filter":"datum.s=='e'&&datum.h==1"}],"mark":{"type":"rule","color":"#808080","strokeWidth":1.5},"encoding":{"x":{"datum":1},"x2":{"datum":20},"y":{"datum":0}}},
{"transform":[{"filter":"datum.s!='e'"}],"mark":{"type":"line","color":"#ff2a2a","strokeWidth":1.2,"strokeDash":[9,4],"interpolate":"monotone","clip":true},"encoding":{"detail":{"field":"s"}}},
{"transform":[{"filter":"datum.s=='e'"}],"mark":{"type":"line","color":"#000","strokeWidth":1.7,"interpolate":"monotone","clip":true}}]},
{"width":139,"height":122.5,"transform":[{"filter":"datum.p=='G'"}],"encoding":{"x":{"field":"h","type":"quantitative","scale":{"domain":[1,20],"nice":false,"zero":false},"axis":{"values":[1,4,8,12,16,20],"title":null}},"y":{"field":"v","type":"quantitative","scale":{"domain":[0,0.3],"nice":false,"zero":false},"axis":{"values":[0,0.1,0.2,0.3],"title":null,"labelExpr":"toString(datum.value)"}}},"layer":[
{"transform":[{"filter":"datum.s=='e'&&datum.h==1"}],"mark":{"type":"rule","color":"#808080","strokeWidth":1.5},"encoding":{"x":{"datum":1},"x2":{"datum":20},"y":{"datum":0}}},
{"transform":[{"filter":"datum.s!='e'"}],"mark":{"type":"line","color":"#ff2a2a","strokeWidth":1.2,"strokeDash":[9,4],"interpolate":"monotone","clip":true},"encoding":{"detail":{"field":"s"}}},
{"transform":[{"filter":"datum.s=='e'"}],"mark":{"type":"line","color":"#000","strokeWidth":1.7,"interpolate":"monotone","clip":true}}]},
{"width":139,"height":122.5,"transform":[{"filter":"datum.p=='H'"}],"encoding":{"x":{"field":"h","type":"quantitative","scale":{"domain":[1,20],"nice":false,"zero":false},"axis":{"values":[1,4,8,12,16,20],"title":null}},"y":{"field":"v","type":"quantitative","scale":{"domain":[-0.2,0.2],"nice":false,"zero":false},"axis":{"values":[-0.2,-0.1,0,0.1,0.2],"title":null,"labelExpr":"toString(datum.value)"}}},"layer":[
{"transform":[{"filter":"datum.s=='e'&&datum.h==1"}],"mark":{"type":"rule","color":"#808080","strokeWidth":1.5},"encoding":{"x":{"datum":1},"x2":{"datum":20},"y":{"datum":0}}},
{"transform":[{"filter":"datum.s!='e'"}],"mark":{"type":"line","color":"#ff2a2a","strokeWidth":1.2,"strokeDash":[9,4],"interpolate":"monotone","clip":true},"encoding":{"detail":{"field":"s"}}},
{"transform":[{"filter":"datum.s=='e'"}],"mark":{"type":"line","color":"#000","strokeWidth":1.7,"interpolate":"monotone","clip":true}}]},
{"width":139,"height":122.5,"transform":[{"filter":"datum.p=='I'"}],"encoding":{"x":{"field":"h","type":"quantitative","scale":{"domain":[1,20],"nice":false,"zero":false},"axis":{"values":[1,4,8,12,16,20],"title":null}},"y":{"field":"v","type":"quantitative","scale":{"domain":[-0.1,0.3],"nice":false,"zero":false},"axis":{"values":[-0.1,0,0.1,0.2,0.3],"title":null,"labelExpr":"toString(datum.value)"}}},"layer":[
{"transform":[{"filter":"datum.s=='e'&&datum.h==1"}],"mark":{"type":"rule","color":"#808080","strokeWidth":1.5},"encoding":{"x":{"datum":1},"x2":{"datum":20},"y":{"datum":0}}},
{"transform":[{"filter":"datum.s!='e'"}],"mark":{"type":"line","color":"#ff2a2a","strokeWidth":1.2,"strokeDash":[9,4],"interpolate":"monotone","clip":true},"encoding":{"detail":{"field":"s"}}},
{"transform":[{"filter":"datum.s=='e'"}],"mark":{"type":"line","color":"#000","strokeWidth":1.7,"interpolate":"monotone","clip":true}}]},
{"width":139,"height":122.5,"transform":[{"filter":"datum.p=='J'"}],"encoding":{"x":{"field":"h","type":"quantitative","scale":{"domain":[1,20],"nice":false,"zero":false},"axis":{"values":[1,4,8,12,16,20],"title":null}},"y":{"field":"v","type":"quantitative","scale":{"domain":[-0.2,0.6],"nice":false,"zero":false},"axis":{"values":[-0.2,0,0.2,0.4,0.6],"title":null,"labelExpr":"toString(datum.value)"}}},"layer":[
{"transform":[{"filter":"datum.s=='e'&&datum.h==1"}],"mark":{"type":"rule","color":"#808080","strokeWidth":1.5},"encoding":{"x":{"datum":1},"x2":{"datum":20},"y":{"datum":0}}},
{"transform":[{"filter":"datum.s!='e'"}],"mark":{"type":"line","color":"#ff2a2a","strokeWidth":1.2,"strokeDash":[9,4],"interpolate":"monotone","clip":true},"encoding":{"detail":{"field":"s"}}},
{"transform":[{"filter":"datum.s=='e'"}],"mark":{"type":"line","color":"#000","strokeWidth":1.7,"interpolate":"monotone","clip":true}}]},
{"width":139,"height":122.5,"transform":[{"filter":"datum.p=='K'"}],"encoding":{"x":{"field":"h","type":"quantitative","scale":{"domain":[1,20],"nice":false,"zero":false},"axis":{"values":[1,4,8,12,16,20],"title":null}},"y":{"field":"v","type":"quantitative","scale":{"domain":[0,0.15],"nice":false,"zero":false},"axis":{"values":[0,0.05,0.1,0.15],"title":"EU funding","titleX":-30,"labelExpr":"toString(datum.value)"}}},"layer":[
{"transform":[{"filter":"datum.s=='e'&&datum.h==1"}],"mark":{"type":"rule","color":"#808080","strokeWidth":1.5},"encoding":{"x":{"datum":1},"x2":{"datum":20},"y":{"datum":0}}},
{"transform":[{"filter":"datum.s!='e'"}],"mark":{"type":"line","color":"#ff2a2a","strokeWidth":1.2,"strokeDash":[9,4],"interpolate":"monotone","clip":true},"encoding":{"detail":{"field":"s"}}},
{"transform":[{"filter":"datum.s=='e'"}],"mark":{"type":"line","color":"#000","strokeWidth":1.7,"interpolate":"monotone","clip":true}}]},
{"width":139,"height":122.5,"transform":[{"filter":"datum.p=='L'"}],"encoding":{"x":{"field":"h","type":"quantitative","scale":{"domain":[1,20],"nice":false,"zero":false},"axis":{"values":[1,4,8,12,16,20],"title":null}},"y":{"field":"v","type":"quantitative","scale":{"domain":[-0.1,0.3],"nice":false,"zero":false},"axis":{"values":[-0.1,0,0.1,0.2,0.3],"title":null,"labelExpr":"toString(datum.value)"}}},"layer":[
{"transform":[{"filter":"datum.s=='e'&&datum.h==1"}],"mark":{"type":"rule","color":"#808080","strokeWidth":1.5},"encoding":{"x":{"datum":1},"x2":{"datum":20},"y":{"datum":0}}},
{"transform":[{"filter":"datum.s!='e'"}],"mark":{"type":"line","color":"#ff2a2a","strokeWidth":1.2,"strokeDash":[9,4],"interpolate":"monotone","clip":true},"encoding":{"detail":{"field":"s"}}},
{"transform":[{"filter":"datum.s=='e'"}],"mark":{"type":"line","color":"#000","strokeWidth":1.7,"interpolate":"monotone","clip":true}}]},
{"width":139,"height":122.5,"transform":[{"filter":"datum.p=='M'"}],"encoding":{"x":{"field":"h","type":"quantitative","scale":{"domain":[1,20],"nice":false,"zero":false},"axis":{"values":[1,4,8,12,16,20],"title":null}},"y":{"field":"v","type":"quantitative","scale":{"domain":[-0.2,0.2],"nice":false,"zero":false},"axis":{"values":[-0.2,-0.1,0,0.1,0.2],"title":null,"labelExpr":"toString(datum.value)"}}},"layer":[
{"transform":[{"filter":"datum.s=='e'&&datum.h==1"}],"mark":{"type":"rule","color":"#808080","strokeWidth":1.5},"encoding":{"x":{"datum":1},"x2":{"datum":20},"y":{"datum":0}}},
{"transform":[{"filter":"datum.s!='e'"}],"mark":{"type":"line","color":"#ff2a2a","strokeWidth":1.2,"strokeDash":[9,4],"interpolate":"monotone","clip":true},"encoding":{"detail":{"field":"s"}}},
{"transform":[{"filter":"datum.s=='e'"}],"mark":{"type":"line","color":"#000","strokeWidth":1.7,"interpolate":"monotone","clip":true}}]},
{"width":139,"height":122.5,"transform":[{"filter":"datum.p=='N'"}],"encoding":{"x":{"field":"h","type":"quantitative","scale":{"domain":[1,20],"nice":false,"zero":false},"axis":{"values":[1,4,8,12,16,20],"title":null}},"y":{"field":"v","type":"quantitative","scale":{"domain":[-0.2,0.4],"nice":false,"zero":false},"axis":{"values":[-0.2,0,0.2,0.4],"title":null,"labelExpr":"toString(datum.value)"}}},"layer":[
{"transform":[{"filter":"datum.s=='e'&&datum.h==1"}],"mark":{"type":"rule","color":"#808080","strokeWidth":1.5},"encoding":{"x":{"datum":1},"x2":{"datum":20},"y":{"datum":0}}},
{"transform":[{"filter":"datum.s!='e'"}],"mark":{"type":"line","color":"#ff2a2a","strokeWidth":1.2,"strokeDash":[9,4],"interpolate":"monotone","clip":true},"encoding":{"detail":{"field":"s"}}},
{"transform":[{"filter":"datum.s=='e'"}],"mark":{"type":"line","color":"#000","strokeWidth":1.7,"interpolate":"monotone","clip":true}}]},
{"width":139,"height":122.5,"transform":[{"filter":"datum.p=='O'"}],"encoding":{"x":{"field":"h","type":"quantitative","scale":{"domain":[1,20],"nice":false,"zero":false},"axis":{"values":[1,4,8,12,16,20],"title":null}},"y":{"field":"v","type":"quantitative","scale":{"domain":[-0.2,0.6],"nice":false,"zero":false},"axis":{"values":[-0.2,0,0.2,0.4,0.6],"title":null,"labelExpr":"toString(datum.value)"}}},"layer":[
{"transform":[{"filter":"datum.s=='e'&&datum.h==1"}],"mark":{"type":"rule","color":"#808080","strokeWidth":1.5},"encoding":{"x":{"datum":1},"x2":{"datum":20},"y":{"datum":0}}},
{"transform":[{"filter":"datum.s!='e'"}],"mark":{"type":"line","color":"#ff2a2a","strokeWidth":1.2,"strokeDash":[9,4],"interpolate":"monotone","clip":true},"encoding":{"detail":{"field":"s"}}},
{"transform":[{"filter":"datum.s=='e'"}],"mark":{"type":"line","color":"#000","strokeWidth":1.7,"interpolate":"monotone","clip":true}}]},
{"width":139,"height":122.5,"transform":[{"filter":"datum.p=='P'"}],"encoding":{"x":{"field":"h","type":"quantitative","scale":{"domain":[1,20],"nice":false,"zero":false},"axis":{"values":[1,4,8,12,16,20],"title":null}},"y":{"field":"v","type":"quantitative","scale":{"domain":[-0.02,0.04],"nice":false,"zero":false},"axis":{"values":[-0.02,0,0.02,0.04],"title":"JP funding","titleX":-30,"labelExpr":"toString(datum.value)"}}},"layer":[
{"transform":[{"filter":"datum.s=='e'&&datum.h==1"}],"mark":{"type":"rule","color":"#808080","strokeWidth":1.5},"encoding":{"x":{"datum":1},"x2":{"datum":20},"y":{"datum":0}}},
{"transform":[{"filter":"datum.s!='e'"}],"mark":{"type":"line","color":"#ff2a2a","strokeWidth":1.2,"strokeDash":[9,4],"interpolate":"monotone","clip":true},"encoding":{"detail":{"field":"s"}}},
{"transform":[{"filter":"datum.s=='e'"}],"mark":{"type":"line","color":"#000","strokeWidth":1.7,"interpolate":"monotone","clip":true}}]},
{"width":139,"height":122.5,"transform":[{"filter":"datum.p=='Q'"}],"encoding":{"x":{"field":"h","type":"quantitative","scale":{"domain":[1,20],"nice":false,"zero":false},"axis":{"values":[1,4,8,12,16,20],"title":null}},"y":{"field":"v","type":"quantitative","scale":{"domain":[-0.05,0.1],"nice":false,"zero":false},"axis":{"values":[-0.05,0,0.05,0.1],"title":null,"labelExpr":"toString(datum.value)"}}},"layer":[
{"transform":[{"filter":"datum.s=='e'&&datum.h==1"}],"mark":{"type":"rule","color":"#808080","strokeWidth":1.5},"encoding":{"x":{"datum":1},"x2":{"datum":20},"y":{"datum":0}}},
{"transform":[{"filter":"datum.s!='e'"}],"mark":{"type":"line","color":"#ff2a2a","strokeWidth":1.2,"strokeDash":[9,4],"interpolate":"monotone","clip":true},"encoding":{"detail":{"field":"s"}}},
{"transform":[{"filter":"datum.s=='e'"}],"mark":{"type":"line","color":"#000","strokeWidth":1.7,"interpolate":"monotone","clip":true}}]},
{"width":139,"height":122.5,"transform":[{"filter":"datum.p=='R'"}],"encoding":{"x":{"field":"h","type":"quantitative","scale":{"domain":[1,20],"nice":false,"zero":false},"axis":{"values":[1,4,8,12,16,20],"title":null}},"y":{"field":"v","type":"quantitative","scale":{"domain":[-0.02,0.04],"nice":false,"zero":false},"axis":{"values":[-0.02,0,0.02,0.04],"title":null,"labelExpr":"toString(datum.value)"}}},"layer":[
{"transform":[{"filter":"datum.s=='e'&&datum.h==1"}],"mark":{"type":"rule","color":"#808080","strokeWidth":1.5},"encoding":{"x":{"datum":1},"x2":{"datum":20},"y":{"datum":0}}},
{"transform":[{"filter":"datum.s!='e'"}],"mark":{"type":"line","color":"#ff2a2a","strokeWidth":1.2,"strokeDash":[9,4],"interpolate":"monotone","clip":true},"encoding":{"detail":{"field":"s"}}},
{"transform":[{"filter":"datum.s=='e'"}],"mark":{"type":"line","color":"#000","strokeWidth":1.7,"interpolate":"monotone","clip":true}}]},
{"width":139,"height":122.5,"transform":[{"filter":"datum.p=='S'"}],"encoding":{"x":{"field":"h","type":"quantitative","scale":{"domain":[1,20],"nice":false,"zero":false},"axis":{"values":[1,4,8,12,16,20],"title":null}},"y":{"field":"v","type":"quantitative","scale":{"domain":[-0.1,0.1],"nice":false,"zero":false},"axis":{"values":[-0.1,-0.05,0,0.05,0.1],"title":null,"labelExpr":"toString(datum.value)"}}},"layer":[
{"transform":[{"filter":"datum.s=='e'&&datum.h==1"}],"mark":{"type":"rule","color":"#808080","strokeWidth":1.5},"encoding":{"x":{"datum":1},"x2":{"datum":20},"y":{"datum":0}}},
{"transform":[{"filter":"datum.s!='e'"}],"mark":{"type":"line","color":"#ff2a2a","strokeWidth":1.2,"strokeDash":[9,4],"interpolate":"monotone","clip":true},"encoding":{"detail":{"field":"s"}}},
{"transform":[{"filter":"datum.s=='e'"}],"mark":{"type":"line","color":"#000","strokeWidth":1.7,"interpolate":"monotone","clip":true}}]},
{"width":139,"height":122.5,"transform":[{"filter":"datum.p=='T'"}],"encoding":{"x":{"field":"h","type":"quantitative","scale":{"domain":[1,20],"nice":false,"zero":false},"axis":{"values":[1,4,8,12,16,20],"title":null}},"y":{"field":"v","type":"quantitative","scale":{"domain":[-0.1,0.2],"nice":false,"zero":false},"axis":{"values":[-0.1,0,0.1,0.2],"title":null,"labelExpr":"toString(datum.value)"}}},"layer":[
{"transform":[{"filter":"datum.s=='e'&&datum.h==1"}],"mark":{"type":"rule","color":"#808080","strokeWidth":1.5},"encoding":{"x":{"datum":1},"x2":{"datum":20},"y":{"datum":0}}},
{"transform":[{"filter":"datum.s!='e'"}],"mark":{"type":"line","color":"#ff2a2a","strokeWidth":1.2,"strokeDash":[9,4],"interpolate":"monotone","clip":true},"encoding":{"detail":{"field":"s"}}},
{"transform":[{"filter":"datum.s=='e'"}],"mark":{"type":"line","color":"#000","strokeWidth":1.7,"interpolate":"monotone","clip":true}}]}
],
"config":{
"font":"Liberation Sans",
"view":{"stroke":"#262626","strokeWidth":0.8},
"axis":{"labelFont":"Liberation Sans","labelFontSize":12,"labelColor":"#262626","domainColor":"#262626","domainWidth":0.8,"tickColor":"#262626","tickSize":-3,"labelPadding":8,"grid":false,"labelFlush":false,"labelOverlap":false,"titleFont":"Liberation Sans","titleFontSize":13,"titleFontWeight":"bold","titleColor":"#000"},
"title":{"font":"Liberation Sans","fontSize":14,"fontWeight":"bold","color":"#000","offset":3}
}
}
